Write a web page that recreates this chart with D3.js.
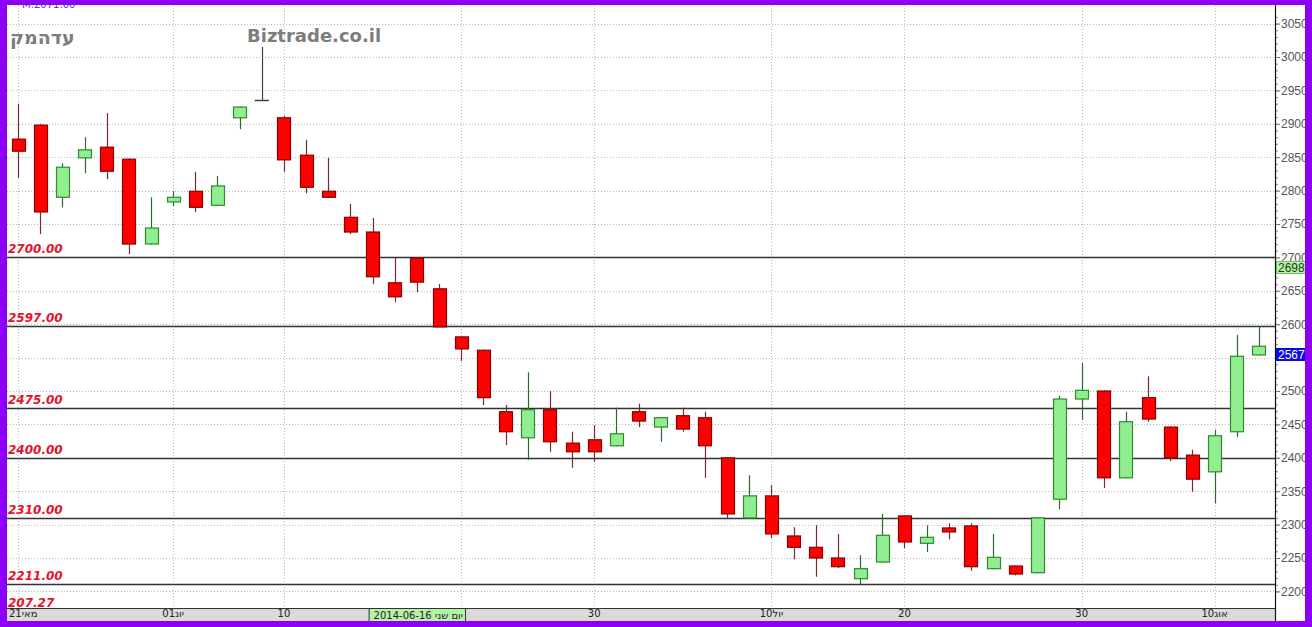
<!DOCTYPE html>
<html>
<head>
<meta charset="utf-8">
<script src="https://cdn.jsdelivr.net/npm/d3@7"></script>
<style>
  html, body { margin: 0; padding: 0; background: #ffffff; }
  svg { display: block; }
</style>
</head>
<body>
<svg id="chart" width="1312" height="627"></svg>
<script>
// Daily candles, 21 May – 12 Aug 2014
const dates = [
  "2014-05-21","2014-05-22","2014-05-25","2014-05-26","2014-05-27","2014-05-28","2014-05-29",
  "2014-06-01","2014-06-02","2014-06-03","2014-06-08","2014-06-09","2014-06-10","2014-06-11",
  "2014-06-12","2014-06-15","2014-06-16","2014-06-17","2014-06-18","2014-06-19","2014-06-22",
  "2014-06-23","2014-06-24","2014-06-25","2014-06-26","2014-06-29","2014-06-30","2014-07-01",
  "2014-07-02","2014-07-03","2014-07-06","2014-07-07","2014-07-08","2014-07-09","2014-07-10",
  "2014-07-13","2014-07-14","2014-07-15","2014-07-16","2014-07-17","2014-07-20","2014-07-21",
  "2014-07-22","2014-07-23","2014-07-24","2014-07-27","2014-07-28","2014-07-29","2014-07-30",
  "2014-07-31","2014-08-03","2014-08-04","2014-08-06","2014-08-07","2014-08-10","2014-08-11",
  "2014-08-12"
];
const opens = [
  2877,2898,2790,2849,2865,2847,2720,2783,2799,2778,2909,2936,2909,2853,
  2799,2760,2738,2662,2699,2653,2581,2561,2469,2430,2472,2422,2427,2418,
  2469,2446,2463,2460,2400,2310,2343,2283,2266,2250,2219,2244,2313,2272,
  2295,2298,2234,2238,2228,2338,2488,2500,2370,2490,2446,2404,2379,2439,
  2554
];
const highs = [
  2930,2900,2841,2880,2916,2848,2790,2799,2828,2822,2926,3015,2912,2876,
  2849,2780,2759,2699,2700,2660,2582,2562,2479,2528,2500,2439,2449,2475,
  2481,2461,2475,2469,2401,2374,2359,2296,2299,2286,2254,2316,2314,2299,
  2302,2302,2286,2239,2311,2493,2542,2501,2469,2522,2447,2412,2442,2584,
  2596
];
const lows = [
  2819,2735,2775,2826,2817,2705,2719,2777,2768,2777,2892,2936,2828,2796,
  2789,2735,2660,2633,2648,2596,2545,2479,2419,2397,2409,2385,2394,2417,
  2446,2424,2439,2370,2310,2309,2280,2248,2222,2235,2211,2243,2265,2259,
  2278,2231,2233,2224,2227,2323,2457,2355,2369,2454,2395,2349,2332,2431,
  2553
];
const closes = [
  2859,2768,2835,2861,2829,2720,2744,2790,2775,2807,2925,2936,2846,2805,
  2790,2738,2671,2641,2663,2596,2563,2490,2439,2472,2424,2409,2409,2436,
  2455,2460,2443,2418,2316,2343,2286,2266,2250,2237,2234,2284,2274,2281,
  2289,2237,2251,2226,2310,2488,2501,2370,2454,2458,2400,2368,2433,2552,
  2567
];

// Horizontal support / resistance levels
const levels = [2700, 2597, 2475, 2400, 2310, 2211];
const bottomNote = "207.27";

// Price scale ticks (2550 sits under the last-price tag)
const yTicks = d3.range(2200, 3051, 50);
const yMinorTicks = d3.range(2200, 3061, 10);
const yHiddenLabels = [2550];

// Date axis ticks and their labels (the 22 Jun label sits under the cursor tag)
const xTickDates = ["2014-05-21","2014-06-01","2014-06-10","2014-06-22","2014-06-30",
                    "2014-07-10","2014-07-20","2014-07-30","2014-08-10"];
const xTickLabels = ["21מאי","01יונ","10","","30","10יול","20","30","10אוג"];

// Cursor date tag and price tags on the right scale
const cursorDate = "2014-06-16";
const cursorLabel = "2014-06-16 יום שני";
const tagValues = [2698, 2567];

const svg = d3.select("#chart");
const W = 1312, H = 627;
const plot = { left: 7, right: 1275, top: 5, bottom: 608 };

const x = d3.scaleBand().domain(dates).range([plot.left, 1270]).paddingInner(0.4).paddingOuter(0.2);
const y = d3.scaleLinear().domain([2200, 3000]).range([591.4, 57]);
const cx = d => x(d) + x.bandwidth() / 2;

// background
svg.append("rect").attr("x", 0).attr("y", 0).attr("width", W).attr("height", H).attr("fill", "#ffffff");

// horizontal dotted grid
svg.append("g").selectAll("line").data(yTicks).join("line")
  .attr("x1", plot.left).attr("x2", plot.right)
  .attr("y1", d => Math.round(y(d)) + 0.5).attr("y2", d => Math.round(y(d)) + 0.5)
  .attr("stroke", "#b8b8b8").attr("stroke-width", 1).attr("stroke-dasharray", "1,2");

// vertical dotted grid at date ticks
svg.append("g").selectAll("line").data(xTickDates).join("line")
  .attr("x1", d => Math.round(cx(d)) + 0.5).attr("x2", d => Math.round(cx(d)) + 0.5)
  .attr("y1", plot.top).attr("y2", plot.bottom)
  .attr("stroke", "#b8b8b8").attr("stroke-width", 1).attr("stroke-dasharray", "1,2");

// level lines
svg.append("g").selectAll("line").data(levels).join("line")
  .attr("x1", plot.left).attr("x2", plot.right)
  .attr("y1", d => Math.round(y(d)) + 0.5).attr("y2", d => Math.round(y(d)) + 0.5)
  .attr("stroke", "#333333").attr("stroke-width", 1.3);

// level labels
svg.append("g").selectAll("text").data(levels).join("text")
  .attr("x", 8).attr("y", d => y(d) - 4)
  .attr("font-family", "DejaVu Sans").attr("font-size", 12)
  .attr("font-weight", "bold").attr("font-style", "italic")
  .attr("fill", "#e8102a")
  .text(d => d.toFixed(2));
svg.append("text").attr("x", 8).attr("y", 607)
  .attr("font-family", "DejaVu Sans").attr("font-size", 12)
  .attr("font-weight", "bold").attr("font-style", "italic")
  .attr("fill", "#e8102a").text(bottomNote);

// watermark texts
svg.append("text").attr("x", 247).attr("y", 42)
  .attr("font-family", "DejaVu Sans").attr("font-size", 18).attr("font-weight", "bold")
  .attr("fill", "#7d7d7d").text("Biztrade.co.il");
svg.append("text").attr("x", 10).attr("y", 44)
  .attr("font-family", "DejaVu Sans").attr("font-size", 19).attr("font-weight", "bold")
  .attr("fill", "#7d7d7d")
  .attr("direction", "ltr").attr("unicode-bidi", "bidi-override")
  .style("direction", "ltr").style("unicode-bidi", "bidi-override")
  .text("קמהדע");
svg.append("text").attr("x", 22).attr("y", 8)
  .attr("font-family", "DejaVu Sans").attr("font-size", 10)
  .attr("fill", "#3a3ad0").text("M:2071.00");

// candles
const candles = dates.map((d, i) => ({ d, o: opens[i], h: highs[i], l: lows[i], c: closes[i] }));
const bodyW = 13;
const kind = c => c.c > c.o ? "up" : (c.c < c.o ? "down" : "flat");
const style = {
  up:   { fill: "#90ee90", stroke: "#2f8a2f", wick: "#2a6a2a" },
  down: { fill: "#ff0000", stroke: "#8a0000", wick: "#7a2a2a" },
  flat: { fill: "none",    stroke: "#404040", wick: "#404040" }
};
const g = svg.append("g");
g.selectAll("line.wick").data(candles).join("line").attr("class", "wick")
  .attr("x1", c => Math.round(cx(c.d)) + 0.5).attr("x2", c => Math.round(cx(c.d)) + 0.5)
  .attr("y1", c => y(c.h)).attr("y2", c => y(c.l))
  .attr("stroke", c => style[kind(c)].wick).attr("stroke-width", 1.2);
g.selectAll("rect.body").data(candles.filter(c => kind(c) !== "flat")).join("rect").attr("class", "body")
  .attr("x", c => Math.round(cx(c.d) - bodyW / 2) + 0.5)
  .attr("y", c => y(Math.max(c.o, c.c)))
  .attr("width", bodyW)
  .attr("height", c => Math.max(1, y(Math.min(c.o, c.c)) - y(Math.max(c.o, c.c))))
  .attr("fill", c => style[kind(c)].fill)
  .attr("stroke", c => style[kind(c)].stroke).attr("stroke-width", 1.2);
g.selectAll("line.flat").data(candles.filter(c => kind(c) === "flat")).join("line").attr("class", "flat")
  .attr("x1", c => cx(c.d) - 7).attr("x2", c => cx(c.d) + 7)
  .attr("y1", c => Math.round(y(c.o)) + 0.5).attr("y2", c => Math.round(y(c.o)) + 0.5)
  .attr("stroke", "#404040").attr("stroke-width", 1.5);

// date axis strip
svg.append("rect").attr("x", plot.left).attr("y", plot.bottom).attr("width", plot.right - plot.left)
  .attr("height", 14).attr("fill", "#dadada");
svg.append("line").attr("x1", plot.left).attr("x2", plot.right)
  .attr("y1", plot.bottom + 0.5).attr("y2", plot.bottom + 0.5)
  .attr("stroke", "#333").attr("stroke-width", 1.2);

const xAxis = d3.axisBottom(x).tickValues(xTickDates).tickSize(0).tickPadding(2)
  .tickFormat(d => xTickLabels[xTickDates.indexOf(d)]);
const xg = svg.append("g").attr("transform", `translate(0,${plot.bottom})`).call(xAxis);
xg.select(".domain").remove();
xg.selectAll("text").attr("font-family", "DejaVu Sans").attr("font-size", 10).attr("fill", "#222");
xg.selectAll(".tick").each(function () {
  const t = d3.select(this).select("text");
  const b = this.getBBox();
  const m = this.getCTM();
  const left = m.e + b.x;
  if (b.width > 0 && left < plot.left + 2) t.attr("dx", plot.left + 2 - left);
});

// cursor date tag
const cxCursor = cx(cursorDate);
const tag = svg.append("g");
const tagText = tag.append("text").attr("x", cxCursor + 1).attr("y", plot.bottom + 11)
  .attr("font-family", "DejaVu Sans").attr("font-size", 10).attr("fill", "#222")
  .text(cursorLabel);
const tb = tagText.node().getBBox();
tag.insert("rect", "text").attr("x", cxCursor - 3.5).attr("y", plot.bottom + 0.5)
  .attr("width", tb.width + 7).attr("height", 13)
  .attr("fill", "#b6f2a6").attr("stroke", "#333").attr("stroke-width", 1);

// right price scale
const yAxis = d3.axisRight(y).tickValues(yTicks).tickSize(5).tickPadding(1)
  .tickFormat(d => yHiddenLabels.includes(d) ? "" : d3.format("d")(d));
const yg = svg.append("g").attr("transform", `translate(${plot.right},0)`).call(yAxis);
yg.select(".domain").remove();
yg.selectAll("line").attr("stroke", "#666");
yg.selectAll("text").attr("font-family", "Liberation Sans").attr("font-size", 12).attr("fill", "#555");
const ymg = svg.append("g").attr("transform", `translate(${plot.right},0)`)
  .call(d3.axisRight(y).tickValues(yMinorTicks).tickSize(3).tickFormat(""));
ymg.select(".domain").remove();
ymg.selectAll("line").attr("stroke", "#888");
svg.append("line").attr("x1", plot.right + 0.5).attr("x2", plot.right + 0.5)
  .attr("y1", 0).attr("y2", H).attr("stroke", "#111").attr("stroke-width", 1.2);

// price tags
const tagStyles = [
  { fill: "#b6f2a6", stroke: "#6fbf6f", text: "#1a3a1a" },
  { fill: "#0a0aee", stroke: "#0a0aee", text: "#ffffff" }
];
tagValues.forEach((v, i) => {
  const ty = Math.round(y(v)) + 2;
  svg.append("rect").attr("x", plot.right + 1.5).attr("y", ty + 0.5)
    .attr("width", 31).attr("height", 12)
    .attr("fill", tagStyles[i].fill).attr("stroke", tagStyles[i].stroke).attr("stroke-width", 1);
  svg.append("text").attr("x", plot.right + 3).attr("y", ty + 11)
    .attr("font-family", "Liberation Sans").attr("font-size", 12)
    .attr("fill", tagStyles[i].text).text(String(v));
});

// frame
const frame = "#8d00f5";
svg.append("rect").attr("x", 0).attr("y", 0).attr("width", W).attr("height", 5).attr("fill", frame);
svg.append("rect").attr("x", 0).attr("y", 621).attr("width", W).attr("height", 6).attr("fill", frame);
svg.append("rect").attr("x", 0).attr("y", 0).attr("width", 7).attr("height", H).attr("fill", frame);
svg.append("rect").attr("x", 1305).attr("y", 0).attr("width", 7).attr("height", H).attr("fill", frame);
</script>
</body>
</html>
